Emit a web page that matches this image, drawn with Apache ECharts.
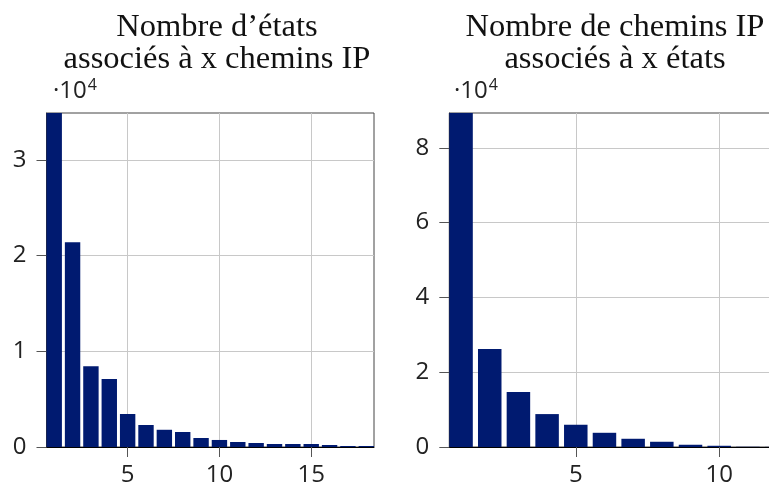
<!DOCTYPE html>
<html><head><meta charset="utf-8">
<script src="https://cdn.jsdelivr.net/npm/echarts@6/dist/echarts.min.js"></script>
<style>html,body{margin:0;padding:0;background:#fff}#c{width:769px;height:492px}</style>
</head><body><div id="c"></div>
<script>
// Left panel: number of states associated with x IP paths
const leftX = [1,2,3,4,5,6,7,8,9,10,11,12,13,14,15,16,17,18];
const leftY = [34900,21400,8450,7100,3450,2300,1800,1570,940,735,525,420,315,315,315,210,105,105];
const leftYTicks = [0,10000,20000,30000];
const leftXTicks = [5,10,15];
// Right panel: number of IP paths associated with x states
const rightX = [1,2,3,4,5,6,7,8,9,10,11,12];
const rightY = [89300,26200,14700,8800,5950,3800,2200,1400,600,330,60,30];
const rightYTicks = [0,20000,40000,60000,80000];
const rightXTicks = [5,10];
const titles = ["Nombre d\u2019\u00e9tats\nassoci\u00e9s \u00e0 x chemins IP", "Nombre de chemins IP\nassoci\u00e9s \u00e0 x \u00e9tats"];

const chart = echarts.init(document.getElementById('c'), null, {renderer:'canvas'});
const NAVY = '#001a70';
const sans = 'Open Sans';
const serif = 'Liberation Serif';

function xAxis(gi, min, max, ticks){
  return {type:'value', gridIndex:gi, min:min, max:max,
    axisLine:{show:true, onZero:false, lineStyle:{color:'#000', width:1}},
    axisTick:{show:true, customValues:ticks, length:10, inside:false, lineStyle:{color:'#555'}},
    axisLabel:{customValues:ticks, fontFamily:sans, fontSize:24, color:'#222', margin:16},
    splitLine:{show:true, lineStyle:{color:'#c8c8c8', width:1}}};
}
function yAxis(gi, max, ticks){
  return {type:'value', gridIndex:gi, min:0, max:max,
    axisLine:{show:true, lineStyle:{color:'#333', width:1}},
    axisTick:{show:true, customValues:ticks, length:10, lineStyle:{color:'#555'}},
    axisLabel:{customValues:ticks, fontFamily:sans, fontSize:24, color:'#222', margin:20,
      formatter:v=>String(v/10000)},
    splitLine:{show:true, lineStyle:{color:'#c8c8c8', width:1}}};
}
const rich = {b:{fontFamily:sans, fontSize:24, fontWeight:'normal', color:'#222', verticalAlign:'bottom'},
              s:{fontFamily:sans, fontSize:16, fontWeight:'normal', color:'#222', verticalAlign:'bottom', padding:[0,0,10,1]}};
const titleStyle = {fontFamily:serif, fontSize:32.5, fontWeight:'normal', color:'#111', lineHeight:32.6};

chart.setOption({
  animation:false,
  title:[
    {text:titles[0], left:212, top:6, textAlign:'center', textStyle:titleStyle},
    {text:titles[1], left:610, top:6, textAlign:'center', textStyle:titleStyle},
    {text:'{b|\u00b710}{s|4}', left:48, top:72, textStyle:{rich:rich, fontWeight:'normal'}},
    {text:'{b|\u00b710}{s|4}', left:449, top:72, textStyle:{rich:rich, fontWeight:'normal'}}
  ],
  grid:[
    {left:46.5, top:113, width:327.5, height:334, show:true, borderColor:'#444', borderWidth:1,
     backgroundColor:'transparent', outerBoundsMode:'none', containLabel:false},
    {left:449.3, top:113, width:339, height:334, show:true, borderColor:'#444', borderWidth:1,
     backgroundColor:'transparent', outerBoundsMode:'none', containLabel:false}
  ],
  xAxis:[xAxis(0,0.58,18.42,leftXTicks), xAxis(1,0.59,12.41,rightXTicks)],
  yAxis:[yAxis(0,34900,leftYTicks), yAxis(1,89300,rightYTicks)],
  series:[
    {type:'bar', xAxisIndex:0, yAxisIndex:0, barWidth:15.4, itemStyle:{color:NAVY},
     data:leftX.map((x,i)=>[x,leftY[i]])},
    {type:'bar', xAxisIndex:1, yAxisIndex:1, barWidth:23.5, itemStyle:{color:NAVY},
     data:rightX.map((x,i)=>[x,rightY[i]])}
  ]
});
</script></body></html>
